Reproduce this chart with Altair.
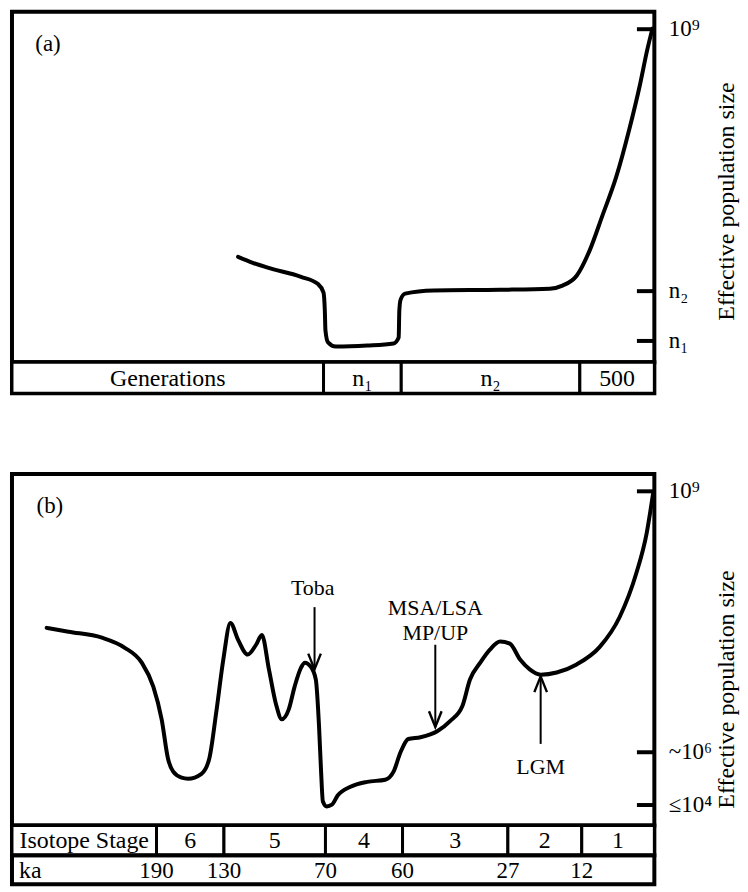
import altair as alt
import pandas as pd

FONT = "Liberation Serif, DejaVu Serif, serif"

# ---------------- Panel (a) ----------------
# schematic units: x 0-100 across the panel, y 0-100 up the plot area
a_curve_x = [35.2, 37.5, 39.8, 45.0, 47.6, 48.5, 48.7, 48.8, 49.2, 50.4,
             55.3, 59.4, 60.2, 60.3, 60.5, 61.2, 65.6, 76.0, 83.7, 85.7,
             87.9, 89.9, 91.9, 94.1, 96.1, 97.7, 98.9, 99.7]
a_curve_y = [30.1, 28.4, 27.0, 24.4, 22.4, 19.9, 14.8, 9.1, 5.7, 4.5,
             4.8, 5.4, 7.1, 14.8, 17.9, 19.6, 20.5, 20.7, 21.0, 21.9,
             24.7, 31.8, 41.8, 53.1, 66.5, 78.7, 89.2, 95.2]
a_tick_values = [95.2, 20.5, 6.25]
a_tick_labels = ["10⁹", "n₂", "n₁"]
gen_labels = ["Generations", "n₁", "n₂", "500"]
gen_bounds = [0, 48.5, 60.6, 88.4, 100]

# ---------------- Panel (b) ----------------
b_curve_x = [5.4, 8.8, 14.0, 17.5, 20.2, 22.0, 23.3, 24.3, 25.1, 26.4,
             27.4, 29.5, 30.7, 31.8, 32.9, 34.0, 35.2, 36.7, 38.0, 38.9,
             40.0, 41.1, 42.0, 43.1, 44.0, 45.0, 45.6, 46.5, 47.3, 47.8,
             48.1, 48.4, 49.0, 49.8, 50.7, 52.7, 55.3, 58.1, 59.4, 60.5,
             61.7, 63.6, 66.2, 68.2, 70.1, 71.3, 72.9, 74.4, 76.0, 77.5,
             79.1, 80.6, 82.3, 84.8, 87.9, 91.5, 94.6, 97.2, 98.8, 99.8]
b_curve_y = [56.2, 55.1, 53.4, 50.6, 46.3, 39.5, 30.2, 18.9, 15.3, 13.6,
             13.3, 14.7, 18.9, 32.2, 47.2, 57.6, 52.8, 48.6, 51.4, 54.2,
             44.4, 34.5, 30.2, 33.1, 39.5, 44.9, 46.3, 45.2, 41.5, 28.2,
             16.1, 6.8, 5.4, 5.9, 8.5, 11.0, 12.4, 13.0, 15.3, 20.9,
             24.6, 25.1, 26.8, 29.7, 33.9, 41.5, 46.3, 50.0, 52.3, 51.7,
             47.2, 44.4, 42.9, 43.5, 45.8, 50.8, 59.3, 71.8, 83.1, 94.4]
b_tick_values = [95.2, 20.9, 5.9]
b_tick_labels = ["10⁹", "~10⁶", "≤10⁴"]
stage_labels = ["Isotope Stage", "6", "5", "4", "3", "2", "1"]
stage_bounds = [0, 22.5, 33.0, 48.8, 60.8, 77.2, 88.7, 100]
ka_labels = ["190", "130", "70", "60", "27", "12"]
ka_positions = [22.5, 33.0, 48.8, 60.8, 77.2, 88.7]

annot_text = ["Toba", "MSA/LSA", "MP/UP", "LGM"]
annot_x = [46.8, 65.9, 65.9, 82.3]
annot_y = [67.5, 61.9, 54.8, 16.7]
arrow_x = [47.1, 65.9, 82.3]
arrow_tail = [62.1, 51.4, 23.2]
arrow_tip = [44.4, 28.0, 42.4]
arrow_dir = ["down", "down", "up"]

panel_labels = ["(a)", "(b)"]
panel_label_x = [5.6, 5.9]
panel_label_y = [90.9, 91.0]

# ---------------- layout ----------------
W = 645
H_A, H_B = 352, 353
ROW_A, ROW_ISO, ROW_KA = 31, 30, 29

xs = alt.Scale(domain=[0, 100], nice=False, zero=False)
ys = alt.Scale(domain=[0, 100], nice=False, zero=False)


def label_expr(vals, labels):
    expr = "''"
    for v, l in zip(reversed(vals), reversed(labels)):
        expr = f"abs(datum.value - {v}) < 0.01 ? '{l}' : ({expr})"
    return expr


def y_axis(vals, labels, title_y):
    return alt.Axis(
        orient="right", values=vals, labelExpr=label_expr(vals, labels),
        offset=-18, tickSize=18, tickWidth=4, tickColor="black",
        domain=False, grid=False, labelPadding=14, labelFont=FONT,
        labelFontSize=23, labelColor="black", labelBaseline="middle",
        labelAlign="left", title="Effective population size",
        titleFont=FONT, titleFontSize=24, titleFontWeight="normal",
        titleColor="black", titleAngle=270, titleX=97, titleY=title_y,
        titleAlign="center", titleBaseline="alphabetic")


def plot_panel(cx, cy, tvals, tlabels, title_y, idx, height, extra=None):
    ax = y_axis(tvals, tlabels, title_y)
    X = alt.X("x:Q", scale=xs, axis=None)
    df = pd.DataFrame({"x": cx, "y": cy})
    line = alt.Chart(df).mark_line(
        color="black", strokeWidth=4, interpolate="monotone",
        strokeCap="round", strokeJoin="round").encode(
        x=X, y=alt.Y("y:Q", scale=ys, axis=ax))
    lab_df = pd.DataFrame({"x": [panel_label_x[idx]], "y": [panel_label_y[idx]],
                           "t": [panel_labels[idx]]})
    lab = alt.Chart(lab_df).mark_text(font=FONT, fontSize=23, color="black").encode(
        x=X, y=alt.Y("y:Q", scale=ys, axis=ax), text="t:N")
    layers = [line, lab] + [f(X, ax) for f in (extra or [])]
    return alt.layer(*layers).properties(width=W, height=height)


def cell_row(labels, bounds, h):
    df = pd.DataFrame({"label": labels, "start": bounds[:-1], "end": bounds[1:]})
    cells = alt.Chart(df).mark_rect(fill="white", stroke="black", strokeWidth=3).encode(
        x=alt.X("start:Q", scale=xs, axis=None), x2="end:Q",
        y=alt.value(0), y2=alt.value(h))
    text = alt.Chart(df).transform_calculate(
        mid="(datum.start + datum.end) / 2").mark_text(
        font=FONT, fontSize=24, color="black", baseline="middle").encode(
        x=alt.X("mid:Q", scale=xs, axis=None), y=alt.value(h / 2 + 1),
        text="label:N")
    return alt.layer(cells, text).properties(width=W, height=h)


# annotations of panel (b)
ann_df = pd.DataFrame({"x": annot_x, "y": annot_y, "t": annot_text})
arr_df = pd.DataFrame({"x": arrow_x, "y": arrow_tail, "tip": arrow_tip, "dir": arrow_dir})


def ann_layer(X, ax):
    return alt.Chart(ann_df).mark_text(font=FONT, fontSize=22, color="black").encode(
        x=X, y=alt.Y("y:Q", scale=ys, axis=ax), text="t:N")


def shaft_layer(X, ax):
    return alt.Chart(arr_df).mark_rule(color="black", strokeWidth=2).encode(
        x=X, y=alt.Y("y:Q", scale=ys, axis=ax), y2="tip:Q")


def head_layer(direction, path):
    def f(X, ax):
        return alt.Chart(arr_df).transform_filter(
            f"datum.dir == '{direction}'").transform_calculate(
            y="datum.tip").mark_point(
            shape=path, filled=False, size=1000, strokeWidth=2.4,
            color="black", opacity=1).encode(
            x=X, y=alt.Y("y:Q", scale=ys, axis=ax))
    return f


plot_a = plot_panel(a_curve_x, a_curve_y, a_tick_values, a_tick_labels, 190, 0, H_A)
plot_b = plot_panel(b_curve_x, b_curve_y, b_tick_values, b_tick_labels, 216, 1, H_B,
                    extra=[ann_layer, shaft_layer,
                           head_layer("down", "M -0.4 -1 L 0 0 L 0.4 -1"),
                           head_layer("up", "M -0.4 1 L 0 0 L 0.4 1")])

row_a = cell_row(gen_labels, gen_bounds, ROW_A)
row_iso = cell_row(stage_labels, stage_bounds, ROW_ISO)

ka_df = pd.DataFrame({"label": ka_labels, "x": ka_positions})
ka_text = alt.Chart(ka_df).mark_text(font=FONT, fontSize=23, color="black",
                                     baseline="middle").encode(
    x=alt.X("x:Q", scale=xs, axis=None), y=alt.value(ROW_KA / 2 + 1), text="label:N")
ka_name = alt.Chart(pd.DataFrame({"label": ["ka"], "x": [1.1]})).mark_text(
    font=FONT, fontSize=24, color="black", baseline="middle", align="left").encode(
    x=alt.X("x:Q", scale=xs, axis=None), y=alt.value(ROW_KA / 2 + 1), text="label:N")
row_ka = alt.layer(ka_name, ka_text).properties(width=W, height=ROW_KA)

panel_a = alt.vconcat(plot_a, row_a, spacing=0, bounds="flush")
panel_b = alt.vconcat(plot_b, row_iso, row_ka, spacing=0, bounds="flush")

chart = alt.vconcat(panel_a, panel_b, spacing=75).properties(
    padding=0, background="white").configure(font=FONT).configure_view(
    stroke="black", strokeWidth=4)

chart.save("out.html", embed_options={"renderer": "svg", "actions": False})
